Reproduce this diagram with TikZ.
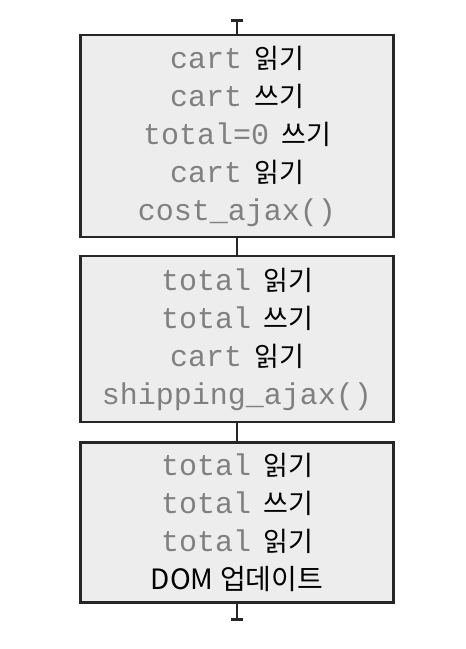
\documentclass[tikz,border=0pt]{standalone}
\usepackage{fontspec}
\setmonofont{Liberation Mono}
\newfontfamily\krfont{Noto Sans CJK KR}
\usetikzlibrary{arrows.meta, positioning}

\newcommand{\code}[1]{{\ttfamily\color{black!50}#1}}
\newcommand{\kr}[1]{{\krfont\fontsize{27}{38}\selectfont #1}}
\newcommand{\gap}{\hspace{12pt}}

\begin{document}
\begin{tikzpicture}[>=Stealth,
			callbox/.style={draw=black!85, line width=2.6pt, fill=black!7, minimum width=313pt, minimum height=#1, align=center, inner sep=0pt, font=\fontsize{30}{38}\selectfont},
			link/.style={draw=black!85, line width=2.6pt},
			endcap/.style={{Bar[width=12pt, line width=2.8pt]}-}
			]
			
			% Page frame
			\useasboundingbox (0pt,0pt) rectangle (466pt,-649pt);
			
			% 1. Action boxes
			\node[callbox=202pt] (cost) at (237pt,-136pt) {
				\code{cart}\gap\kr{읽기}\\
				\code{cart}\gap\kr{쓰기}\\
				\code{total=0}\gap\kr{쓰기}\\
				\code{cart}\gap\kr{읽기}\\
				\code{cost\_ajax()}
			};
			\node[callbox=166pt, below=16.5pt of cost] (shipping) {
				\code{total}\gap\kr{읽기}\\
				\code{total}\gap\kr{쓰기}\\
				\code{cart}\gap\kr{읽기}\\
				\code{shipping\_ajax()}
			};
			\node[callbox=160pt, below=17.5pt of shipping] (dom) {
				\code{total}\gap\kr{읽기}\\
				\code{total}\gap\kr{쓰기}\\
				\code{total}\gap\kr{읽기}\\
				\kr{\fontsize{28}{38}\selectfont DOM 업데이트}
			};
			
			% 2. Timeline ends
			\coordinate (start) at (237pt,-19pt);
			\coordinate (stop) at (237pt,-621pt);
			
			% 3. Timeline links
			\draw[link, endcap] (start) -- (cost.north);
			\draw[link] (cost.south) -- (shipping.north);
			\draw[link] (shipping.south) -- (dom.north);
			\draw[link, endcap] (stop) -- (dom.south);
			
		\end{tikzpicture}
\end{document}
